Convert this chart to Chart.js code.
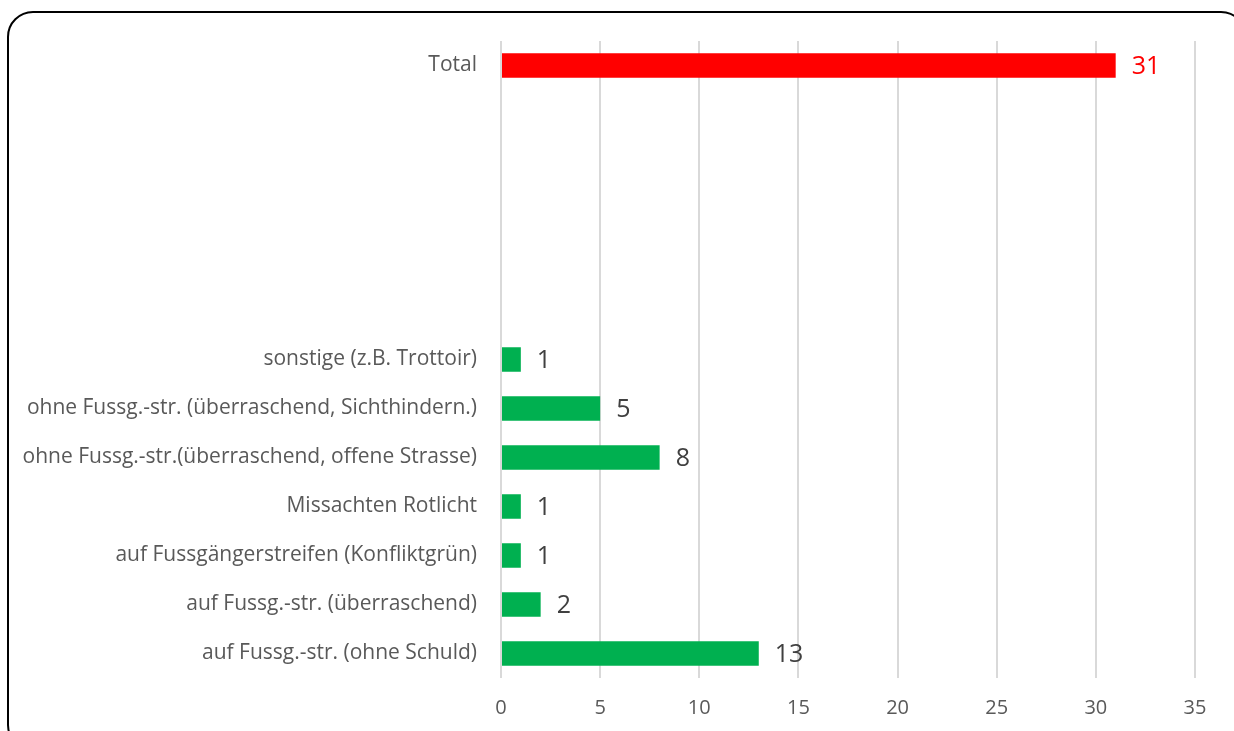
<!DOCTYPE html>
<html>
<head>
<meta charset="utf-8">
<script src="https://cdn.jsdelivr.net/npm/chart.js@4"></script>
<style>
  html, body { margin: 0; padding: 0; background: #fff; overflow: hidden; }
  #rahmen {
    position: absolute; left: 7px; top: 11px; width: 1240px; height: 740px;
    border: 2px solid #000; border-radius: 26px; box-sizing: border-box;
  }
  #wrap { position: absolute; left: 0; top: 0; width: 1234px; height: 731px; }
</style>
</head>
<body>
<div id="rahmen"></div>
<div id="wrap"><canvas id="grafik"></canvas></div>
<script>
// Kategorien von oben nach unten (leere Einträge = Lücke im Diagramm)
const kategorien = [
  'Total', '', '', '', '', '',
  'sonstige (z.B. Trottoir)',
  'ohne Fussg.-str. (überraschend, Sichthindern.)',
  'ohne Fussg.-str.(überraschend, offene Strasse)',
  'Missachten Rotlicht',
  'auf Fussgängerstreifen (Konfliktgrün)',
  'auf Fussg.-str. (überraschend)',
  'auf Fussg.-str. (ohne Schuld)'
];
const anzahl = [31, null, null, null, null, null, 1, 5, 8, 1, 1, 2, 13];
const xTicks = [0, 5, 10, 15, 20, 25, 30, 35];

const farben = kategorien.map(k => k === 'Total' ? '#ff0000' : '#00b050');

const wertLabels = {
  id: 'wertLabels',
  afterDatasetsDraw(chart) {
    const ctx = chart.ctx;
    const meta = chart.getDatasetMeta(0);
    ctx.save();
    ctx.font = '25px "Open Sans", sans-serif';
    ctx.textBaseline = 'middle';
    ctx.textAlign = 'left';
    meta.data.forEach((bar, i) => {
      const v = anzahl[i];
      if (v === null) return;
      ctx.fillStyle = kategorien[i] === 'Total' ? '#ff0000' : '#404040';
      ctx.fillText(String(v), bar.x + 16, bar.y + 1);
    });
    ctx.restore();
  }
};

new Chart(document.getElementById('grafik'), {
  type: 'bar',
  data: {
    labels: kategorien,
    datasets: [{
      data: anzahl,
      backgroundColor: farben,
      borderWidth: 0,
      categoryPercentage: 1.0,
      barPercentage: 0.5
    }]
  },
  options: {
    indexAxis: 'y',
    responsive: true,
    maintainAspectRatio: false,
    animation: false,
    layout: { padding: { left: 0, right: 39, top: 41, bottom: 0 } },
    plugins: {
      legend: { display: false },
      tooltip: { enabled: false }
    },
    scales: {
      x: {
        min: 0,
        max: 35,
        afterBuildTicks: s => { s.ticks = xTicks.map(v => ({ value: v })); },
        afterFit: s => { s.height = 53; },
        grid: { color: '#d9d9d9', lineWidth: 2, drawTicks: false },
        border: { display: false },
        ticks: {
          color: '#595959',
          padding: 18,
          font: { family: '"Open Sans", sans-serif', size: 20 }
        }
      },
      y: {
        grid: { display: false },
        border: { display: false },
        afterFit: s => { s.width = 501; },
        ticks: {
          color: '#595959',
          padding: 16,
          autoSkip: false,
          font: { family: '"Open Sans", sans-serif', size: 21 }
        }
      }
    }
  },
  plugins: [wertLabels]
});
</script>
</body>
</html>
